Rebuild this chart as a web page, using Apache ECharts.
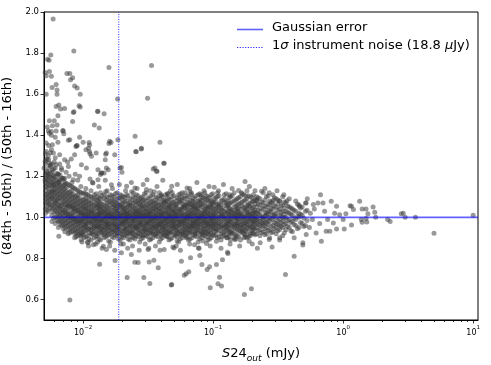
<!DOCTYPE html>
<html>
<head>
<meta charset="utf-8">
<script src="https://cdn.jsdelivr.net/npm/echarts@6/dist/echarts.min.js"></script>
<style>
html,body{margin:0;padding:0;background:#fff;}
#chart{width:491px;height:365px;}
</style>
</head>
<body>
<div id="chart"></div>
<script>
// ---------- data ----------
const xMin = 0.005, xMax = 10.9;
const yMin = 0.5, yMax = 2.0;
const gaussianLevel = 1.0;          // Gaussian error expectation
const noiseLevel = 0.0188;          // 1 sigma instrument noise, mJy (18.8 uJy)
const yTickValues = [0.6, 0.8, 1.0, 1.2, 1.4, 1.6, 1.8, 2.0];
const majorXTicks = [0.01, 0.1, 1, 10];
const minorXTicks = [0.006,0.007,0.008,0.009,0.02,0.03,0.04,0.05,0.06,0.07,0.08,0.09,
                     0.2,0.3,0.4,0.5,0.6,0.7,0.8,0.9,2,3,4,5,6,7,8,9];

// dense band, set A: column x positions (mJy) and the y values read in each column
const bandColX = [0.00513,0.00543,0.00575,0.00610,0.00646,0.00684,0.00724,0.00767,0.00813,0.00861,0.00912,0.00966,
0.0102,0.0108,0.0115,0.0122,0.0129,0.0136,0.0145,0.0153,0.0162,0.0172,0.0182,0.0193,0.0204,0.0216,0.0229,0.0243,
0.0257,0.0272,0.0288,0.0305,0.0324,0.0343,0.0363,0.0385,0.0407,0.0432,0.0457,0.0484,0.0513,0.0543,0.0575,0.0610,
0.0646,0.0684,0.0724,0.0767,0.0813,0.0861,0.0912,0.0966,0.102,0.108,0.115,0.122,0.129,0.136,0.145,0.153,0.162,
0.172,0.182,0.193,0.204,0.216,0.229,0.243,0.257,0.272,0.288,0.305,0.324,0.343,0.363,0.385,0.407,0.432,0.457,0.484,0.513];
const bandColY = [
[1.04,1.09,1.13,1.17,1.21,1.26,1.11,1.07,1.19,1.31,1.15,1.02],
[1.03,1.08,1.12,1.16,1.20,1.24,1.10,1.14,1.06,1.28,1.18,1.35],
[1.01,1.06,1.10,1.13,1.17,1.22,1.09,1.15,1.04,1.26,1.19,1.12,0.98],
[1.00,1.05,1.08,1.12,1.16,1.20,1.03,1.10,1.14,1.24,1.07,1.18,0.97],
[0.98,1.02,1.06,1.09,1.13,1.17,1.04,1.11,1.21,1.00,1.15,1.08,0.95],
[0.96,1.00,1.04,1.07,1.11,1.15,1.02,1.09,1.19,0.98,1.13,1.06,1.23],
[0.95,0.99,1.03,1.06,1.10,1.14,1.01,1.08,1.17,0.97,1.12,1.05,0.93],
[0.94,0.98,1.01,1.05,1.08,1.12,1.00,1.06,1.16,0.96,1.10,1.03,0.92],
[0.93,0.97,1.00,1.04,1.07,1.11,0.99,1.05,1.15,0.95,1.09,1.02,1.13],
[0.92,0.96,0.99,1.03,1.06,1.10,0.98,1.04,1.14,0.94,1.08,1.01,0.90],
[0.91,0.95,0.98,1.02,1.05,1.09,0.97,1.03,1.13,0.93,1.07,1.00,1.11],
[0.91,0.94,0.98,1.01,1.04,1.08,0.96,1.02,1.12,0.92,1.06,0.99,0.89],
[0.90,0.93,0.96,0.98,1.00,1.02,1.04,1.07,1.09,1.12,0.95,1.01,1.05],
[0.91,0.94,0.95,0.99,1.01,1.03,1.06,1.08,1.11,0.97,1.00,1.04,0.88],
[0.89,0.92,0.95,0.97,1.00,1.02,1.05,1.07,1.10,0.98,1.03,1.13,0.94],
[0.90,0.93,0.96,0.99,1.01,1.04,1.06,1.09,0.97,1.02,1.11,0.95,1.00],
[0.91,0.92,0.95,0.98,1.00,1.03,1.05,1.08,1.10,0.96,1.01,1.06,0.88],
[0.89,0.93,0.96,0.98,1.01,1.02,1.04,1.07,1.12,0.99,0.94,1.05,1.09],
[0.90,0.94,0.95,0.97,0.99,1.02,1.04,1.06,1.09,1.00,1.03,0.92,1.11],
[0.91,0.93,0.96,0.98,1.00,1.01,1.05,1.07,1.10,0.97,1.03,0.95,1.13],
[0.88,0.92,0.95,0.97,1.00,1.02,1.04,1.06,1.08,0.99,1.01,1.11,0.94],
[0.90,0.93,0.96,0.99,1.01,1.03,1.05,1.08,1.10,0.97,1.00,0.94,1.06],
[0.91,0.94,0.95,0.98,1.00,1.02,1.04,1.07,1.12,0.96,1.03,0.92,1.09],
[0.89,0.92,0.96,0.97,0.99,1.01,1.05,1.06,1.09,1.02,1.00,0.94,1.11],
[0.90,0.93,0.95,0.98,1.00,1.03,1.04,1.07,1.10,0.97,1.01,1.05,0.87],
[0.91,0.94,0.96,0.99,1.01,1.02,1.05,1.08,1.11,0.98,1.03,0.92,1.00],
[0.89,0.93,0.95,0.97,1.00,1.02,1.04,1.06,1.09,0.96,1.01,1.07,0.92],
[0.90,0.92,0.96,0.98,1.00,1.01,1.03,1.07,1.10,0.99,1.05,0.94,1.12],
[0.91,0.93,0.95,0.97,0.99,1.02,1.04,1.06,1.08,1.00,1.03,0.95,1.11],
[0.88,0.92,0.96,0.98,1.01,1.03,1.05,1.07,1.09,0.97,1.00,0.94,1.02],
[0.90,0.93,0.95,0.99,1.00,1.02,1.04,1.08,1.10,0.96,1.01,1.06,0.91],
[0.91,0.94,0.96,0.98,1.00,1.01,1.03,1.06,1.12,0.97,1.04,0.93,1.08],
[0.89,0.92,0.95,0.97,0.99,1.02,1.05,1.07,1.09,1.00,1.03,0.94,1.01],
[0.90,0.93,0.96,0.98,1.00,1.03,1.04,1.06,1.11,0.95,1.01,1.08,0.92],
[0.91,0.92,0.95,0.97,1.01,1.02,1.05,1.07,1.10,0.99,1.00,0.94,1.04],
[0.88,0.93,0.96,0.99,1.00,1.01,1.03,1.06,1.09,0.97,1.04,0.95,1.12],
[0.90,0.94,0.95,0.98,1.00,1.02,1.04,1.08,1.10,0.96,1.01,0.92,1.06],
[0.91,0.93,0.96,0.97,0.99,1.03,1.05,1.07,1.11,1.00,1.02,0.94,1.08],
[0.89,0.92,0.95,0.98,1.01,1.02,1.04,1.06,1.09,0.97,1.00,1.05,0.93],
[0.90,0.93,0.96,0.99,1.00,1.01,1.03,1.07,1.10,0.95,1.04,0.98,1.12],
[0.91,0.94,0.95,0.97,1.00,1.02,1.05,1.06,1.08,0.99,1.03,0.92,1.01],
[0.88,0.92,0.96,0.98,0.99,1.03,1.04,1.07,1.11,0.96,1.01,0.94,1.09],
[0.90,0.93,0.95,0.97,1.01,1.02,1.05,1.08,1.10,1.00,0.98,1.04,0.92],
[0.91,0.94,0.96,0.99,1.00,1.01,1.03,1.06,1.09,0.97,1.05,0.93,1.12],
[0.89,0.92,0.95,0.98,1.00,1.02,1.04,1.07,1.10,0.96,1.01,1.06,0.94],
[0.90,0.93,0.96,0.97,0.99,1.03,1.05,1.06,1.08,1.00,1.02,0.95,1.11],
[0.91,0.92,0.95,0.98,1.01,1.02,1.04,1.07,1.09,0.97,1.00,0.93,1.05],
[0.88,0.94,0.96,0.99,1.00,1.01,1.03,1.08,1.11,0.95,1.04,0.97,1.06],
[0.90,0.93,0.95,0.97,1.00,1.02,1.05,1.06,1.10,0.98,1.01,0.92,1.08],
[0.91,0.93,0.96,0.98,0.99,1.03,1.04,1.07,1.09,1.00,1.02,0.94,1.12],
[0.89,0.92,0.95,0.97,1.01,1.02,1.05,1.08,1.10,0.96,1.00,1.04,0.93],
[0.90,0.94,0.96,0.99,1.00,1.01,1.03,1.06,1.11,0.97,1.05,0.92,1.08],
[0.91,0.93,0.95,0.98,1.00,1.02,1.04,1.07,1.09,0.97,1.01],
[0.90,0.94,0.96,0.97,0.99,1.03,1.05,1.06,1.10,1.00,1.12],
[0.89,0.92,0.95,0.98,1.01,1.02,1.04,1.08,0.96,1.00,1.06],
[0.91,0.93,0.96,0.99,1.00,1.01,1.03,1.07,1.09,0.95,1.11],
[0.90,0.94,0.95,0.97,1.00,1.02,1.05,1.06,1.08,0.98,1.03],
[0.92,0.93,0.96,0.98,0.99,1.03,1.04,1.07,1.10,1.01,0.89],
[0.90,0.92,0.95,0.97,1.01,1.02,1.05,1.08,1.12,0.96,1.00],
[0.91,0.94,0.96,0.99,1.00,1.01,1.03,1.06,1.09,0.97,1.04],
[0.89,0.93,0.95,0.98,1.00,1.02,1.04,1.07,1.10,1.01,0.96],
[0.92,0.94,0.96,0.97,0.99,1.03,1.05,1.08,1.11,1.00,0.90],
[0.90,0.93,0.95,0.98,1.01,1.02,1.04,1.06,1.09,0.97,1.13],
[0.91,0.92,0.96,0.99,1.00,1.01,1.03,1.07,1.10,0.95,1.05],
[0.92,0.94,0.95,0.97,1.00,1.02,1.05,1.08,1.11,0.98,1.03],
[0.92,0.95,0.97,1.00,1.02,1.05,1.08,1.10,0.99],
[0.91,0.94,0.98,1.01,1.03,1.06,1.09,0.96],
[0.93,0.96,0.99,1.00,1.04,1.07,1.12,0.97],
[0.92,0.95,0.97,1.01,1.02,1.05,1.10,0.99],
[0.90,0.94,0.98,1.00,1.03,1.06,1.08],
[0.93,0.96,0.99,1.01,1.04,1.07,1.11],
[0.92,0.95,0.97,1.00,1.02,1.05,1.09],
[0.94,0.96,0.99,1.01,1.04,1.08],
[0.91,0.95,0.98,1.00,1.03,1.06,1.10],
[0.94,0.97,1.00,1.03,1.07],
[0.95,0.99,1.02,1.05,1.09],
[0.93,0.98,1.01,1.04],
[0.96,0.99,1.03,1.08],
[0.95,1.00,1.02,1.06],
[0.97,1.01,1.05],
[0.96,1.03,1.07]
];

// dense band, set B: columns between those of set A
const bandColX2 = [0.00528,0.00559,0.00592,0.00628,0.00665,0.00704,0.00745,0.00789,0.00837,0.00886,0.00939,0.00994,
0.0105,0.0111,0.0118,0.0126,0.0133,0.0140,0.0149,0.0157,0.0167,0.0177,0.0187,0.0199,0.0210,0.0222,0.0236,0.0250,
0.0265,0.0280,0.0296,0.0314,0.0333,0.0353,0.0374,0.0396,0.0419,0.0445,0.0470,0.0498,0.0528,0.0559,0.0592,0.0628,
0.0665,0.0704,0.0745,0.0789,0.0837,0.0886,0.0939,0.0994,0.105,0.111,0.118,0.126,0.133,0.140,0.149,0.157,0.167,
0.177,0.187,0.199,0.210,0.222,0.236,0.250,0.265,0.280,0.296,0.314,0.333,0.353,0.374,0.396,0.419,0.445,0.470,0.498,0.528];
const bandColY2 = [
[1.055,1.095,1.145,1.185,1.225,1.115,1.075,1.165,1.035,1.285,1.205],
[1.045,1.085,1.125,1.175,1.215,1.255,1.105,1.155,1.065,1.195,1.315],
[1.025,1.065,1.105,1.135,1.175,1.235,1.085,1.155,1.045,1.205,1.125,0.995],
[1.005,1.045,1.085,1.125,1.165,1.215,1.065,1.105,1.145,1.185,1.025,0.985],
[0.985,1.025,1.055,1.095,1.135,1.175,1.045,1.115,1.205,1.005,1.155,0.965],
[0.965,1.005,1.035,1.075,1.115,1.155,1.025,1.095,1.185,0.985,1.135,0.945],
[0.955,0.995,1.025,1.065,1.105,1.145,1.015,1.085,1.165,0.975,1.125,1.045],
[0.945,0.985,1.015,1.055,1.085,1.125,1.005,1.065,1.155,0.965,1.105,0.925],
[0.935,0.975,1.005,1.045,1.075,1.115,0.995,1.055,1.145,0.955,1.095,1.025],
[0.925,0.965,0.995,1.035,1.065,1.105,0.985,1.045,1.135,0.945,1.085,0.905],
[0.915,0.955,0.985,1.025,1.055,1.095,0.975,1.035,1.125,0.935,1.075,1.005],
[0.915,0.945,0.985,1.015,1.045,1.085,0.965,1.025,1.115,0.925,1.065,0.995],
[0.905,0.935,0.955,0.975,0.995,1.015,1.035,1.055,1.075,1.095,0.965,1.115],
[0.895,0.925,0.945,0.985,1.005,1.025,1.045,1.065,1.085,1.105,0.975,1.015],
[0.915,0.945,0.965,0.985,1.005,1.035,1.055,1.075,1.095,0.925,0.995,1.025],
[0.905,0.925,0.955,0.975,0.995,1.015,1.045,1.065,1.085,1.115,0.985,0.945],
[0.895,0.935,0.965,0.985,1.005,1.025,1.035,1.055,1.075,1.095,0.955,1.015],
[0.915,0.945,0.955,0.975,0.995,1.015,1.045,1.065,1.105,0.925,0.985,1.025],
[0.905,0.925,0.945,0.965,0.995,1.005,1.035,1.055,1.085,1.125,0.975,1.015],
[0.885,0.935,0.955,0.985,1.005,1.025,1.045,1.075,1.095,0.965,0.915,1.015],
[0.905,0.945,0.965,0.975,0.995,1.015,1.035,1.065,1.085,1.105,0.925,1.005],
[0.915,0.935,0.955,0.985,1.005,1.025,1.055,1.075,1.115,0.965,0.995,1.045],
[0.895,0.925,0.945,0.975,0.995,1.015,1.035,1.055,1.095,0.955,1.005,1.065],
[0.905,0.935,0.965,0.985,1.005,1.025,1.045,1.065,1.085,0.915,0.975,1.105],
[0.915,0.945,0.955,0.975,0.995,1.015,1.045,1.075,1.095,0.935,0.985,1.025],
[0.895,0.925,0.965,0.985,1.005,1.035,1.055,1.065,1.105,0.945,0.995,1.015],
[0.905,0.935,0.955,0.975,0.995,1.015,1.035,1.055,1.085,0.925,0.985,1.125],
[0.915,0.945,0.965,0.985,1.005,1.025,1.045,1.075,1.095,0.955,1.015,0.895],
[0.905,0.925,0.955,0.975,0.995,1.015,1.035,1.065,1.085,1.105,0.945,1.005],
[0.895,0.935,0.965,0.985,1.005,1.025,1.055,1.075,1.095,0.915,0.975,1.045],
[0.915,0.945,0.955,0.975,0.995,1.015,1.035,1.055,1.085,0.935,1.005,1.115],
[0.905,0.925,0.965,0.985,1.005,1.025,1.045,1.065,1.095,0.945,0.975,1.015],
[0.895,0.935,0.955,0.975,0.995,1.015,1.035,1.075,1.105,0.925,0.985,1.055],
[0.915,0.945,0.965,0.985,1.005,1.025,1.045,1.065,1.085,0.955,0.995,1.125],
[0.905,0.925,0.955,0.975,0.995,1.035,1.055,1.075,1.095,0.935,1.015,0.965],
[0.895,0.935,0.965,0.985,1.005,1.025,1.045,1.065,1.105,0.915,0.975,1.015],
[0.915,0.945,0.955,0.975,0.995,1.015,1.035,1.055,1.085,0.925,0.985,1.075],
[0.905,0.925,0.965,0.985,1.005,1.025,1.045,1.075,1.095,0.945,0.995,1.115],
[0.895,0.935,0.955,0.975,0.995,1.015,1.055,1.065,1.085,0.925,1.005,1.035],
[0.915,0.945,0.965,0.985,1.005,1.025,1.035,1.055,1.105,0.955,0.975,1.075],
[0.905,0.925,0.955,0.975,0.995,1.015,1.045,1.065,1.095,0.935,1.005,0.885],
[0.895,0.935,0.965,0.985,1.005,1.025,1.035,1.075,1.085,0.915,0.975,1.115],
[0.915,0.945,0.955,0.975,0.995,1.015,1.045,1.055,1.095,0.925,0.985,1.065],
[0.905,0.925,0.965,0.985,1.005,1.035,1.055,1.075,1.105,0.945,0.995,1.015],
[0.895,0.935,0.955,0.975,0.995,1.015,1.035,1.065,1.085,0.925,1.005,1.125],
[0.915,0.945,0.965,0.985,1.005,1.025,1.045,1.055,1.095,0.955,0.975,1.075],
[0.905,0.925,0.955,0.975,0.995,1.015,1.035,1.065,1.105,0.935,0.985,1.045],
[0.895,0.935,0.965,0.985,1.005,1.025,1.055,1.075,1.085,0.915,0.995,1.115],
[0.915,0.945,0.955,0.975,0.995,1.015,1.035,1.065,1.095,0.925,1.005,0.885],
[0.905,0.925,0.965,0.985,1.005,1.025,1.045,1.055,1.085,0.945,0.975,1.105],
[0.895,0.935,0.955,0.975,0.995,1.035,1.055,1.075,1.095,0.915,0.985,1.015],
[0.915,0.945,0.965,0.985,1.005,1.025,1.045,1.065,1.115,0.955,0.995,1.075],
[0.915,0.945,0.965,0.985,1.005,1.025,1.045,1.075,1.095,0.935],
[0.905,0.935,0.955,0.975,0.995,1.015,1.055,1.065,1.105,1.035],
[0.925,0.945,0.965,0.985,1.005,1.035,1.045,1.085,0.905,1.015],
[0.915,0.935,0.955,0.975,0.995,1.025,1.055,1.075,1.115,0.965],
[0.905,0.945,0.965,0.985,1.005,1.015,1.045,1.065,1.095,0.925],
[0.925,0.935,0.955,0.975,0.995,1.025,1.035,1.075,1.105,1.005],
[0.915,0.945,0.965,0.985,1.015,1.035,1.055,1.085,0.895,0.995],
[0.905,0.935,0.955,0.975,0.995,1.025,1.045,1.065,1.095,1.015],
[0.925,0.945,0.965,0.985,1.005,1.015,1.055,1.075,1.115,0.935],
[0.915,0.935,0.955,0.975,1.005,1.035,1.045,1.085,0.905,0.995],
[0.905,0.945,0.965,0.985,0.995,1.025,1.055,1.065,1.105,1.015],
[0.925,0.935,0.955,0.975,1.005,1.015,1.045,1.075,1.095,0.985],
[0.915,0.945,0.965,0.985,0.995,1.025,1.035,1.065,1.085,1.005],
[0.935,0.965,0.985,1.015,1.035,1.065,1.095],
[0.925,0.955,0.995,1.005,1.045,1.075,0.975],
[0.945,0.975,1.005,1.025,1.055,1.085,0.915],
[0.935,0.965,0.985,1.015,1.035,1.065,1.105],
[0.925,0.955,0.995,1.025,1.045,1.075],
[0.945,0.975,1.005,1.015,1.055,1.095],
[0.935,0.965,0.985,1.035,1.065,1.085],
[0.955,0.975,1.005,1.025,1.055],
[0.925,0.965,0.995,1.015,1.045,1.075],
[0.955,0.985,1.025,1.055],
[0.935,0.975,1.015,1.045],
[0.965,0.995,1.035],
[0.945,1.005,1.065],
[0.975,1.015,1.045],
[0.955,0.995],
[0.985,1.035]
];

// sparse points above the band (low flux side)
const upperPts = [
[0.00588,1.966],[0.00848,1.81],[0.00532,1.77],[0.00547,1.765],[0.00564,1.79],[0.0055,1.71],[0.0051,1.705],[0.0052,1.69],
[0.0057,1.687],[0.0075,1.70],[0.0079,1.70],[0.0080,1.67],[0.0083,1.68],[0.0086,1.64],[0.009,1.63],[0.0095,1.60],
[0.00577,1.632],[0.0062,1.647],[0.0063,1.62],[0.0063,1.60],[0.0052,1.60],[0.0158,1.73],[0.0336,1.74],[0.0313,1.58],
[0.0184,1.576],[0.0093,1.543],[0.0095,1.537],[0.0062,1.54],[0.0065,1.547],[0.0067,1.527],[0.0072,1.53],[0.0085,1.514],
[0.0129,1.517],[0.0145,1.504],[0.0064,1.495],[0.0055,1.47],[0.0060,1.47],[0.0053,1.44],[0.0058,1.446],[0.0063,1.45],
[0.0062,1.42],[0.0054,1.42],[0.0055,1.41],[0.0057,1.40],[0.0061,1.39],[0.0070,1.42],[0.0071,1.407],[0.0077,1.376],
[0.0094,1.39],[0.0090,1.35],[0.0088,1.345],[0.0122,1.45],[0.0133,1.435],[0.0111,1.365],[0.0112,1.352],[0.0110,1.337],
[0.0112,1.32],[0.0113,1.31],[0.0126,1.313],[0.0149,1.307],[0.0148,1.28],[0.0151,1.24],[0.0164,1.365],[0.0158,1.36],
[0.0185,1.378],[0.0251,1.395],[0.0256,1.32],[0.0281,1.336],[0.039,1.366],[0.042,1.263],[0.0346,1.235],[0.0367,1.224],
[0.0197,1.243],[0.0199,1.22],[0.0136,1.208],[0.0139,1.216],[0.0145,1.216],[0.0084,1.511],[0.013,1.516],[0.0083,1.467],
[0.0057,1.418],[0.0070,1.423],[0.0052,1.362],[0.0058,1.354],[0.0064,1.366],[0.0079,1.378],[0.0089,1.349],[0.0100,1.366],
[0.0105,1.329],[0.016,1.37],[0.0254,1.321],[0.028,1.333],[0.0052,1.321],[0.0059,1.313],[0.0066,1.305],[0.0072,1.281],
[0.0081,1.284],[0.0086,1.305],[0.0116,1.297],[0.0151,1.313],[0.0175,1.305],[0.0051,1.272],[0.0055,1.264],[0.0062,1.256],
[0.0077,1.248],[0.0097,1.256],[0.0106,1.24],[0.013,1.232],[0.0138,1.216],[0.0156,1.232],[0.0192,1.24],[0.0356,1.24],
[0.037,1.224],[0.031,1.183],[0.025,1.143],[0.0417,1.264],[0.0054,1.208],[0.0059,1.197],[0.0066,1.183],[0.0072,1.19],
[0.0084,1.183],[0.0094,1.2],[0.0113,1.187],[0.0119,1.167],[0.013,1.183],[0.0165,1.159],[0.0216,1.151],[0.0307,1.135],
[0.0051,1.18],[0.0053,1.22],[0.0056,1.25],[0.0052,1.28],[0.0058,1.23],[0.0060,1.27],[0.0064,1.21],[0.0068,1.24],
[0.0070,1.19],[0.0074,1.22],[0.0078,1.20],[0.0082,1.17],[0.0087,1.21],[0.0091,1.18],[0.0096,1.15],[0.0054,1.30],
[0.0057,1.33],[0.0061,1.29],[0.0066,1.26],[0.0076,1.27],[0.0050,1.24],[0.0059,1.16],[0.0065,1.17],[0.0072,1.16]
];

// points on the upper / lower fringes of the band
const fringePts = [
[0.048,1.151],[0.063,1.143],[0.102,1.147],[0.176,1.175],[0.157,1.131],[0.236,1.127],[0.040,1.11],[0.045,1.115],
[0.068,1.119],[0.081,1.11],[0.134,1.11],[0.178,1.105],[0.216,1.086],[0.29,1.083],[0.325,1.078],[0.37,1.081],
[0.46,1.054],[0.52,1.07],[0.044,0.908],[0.049,0.856],[0.062,0.90],[0.072,0.867],[0.089,0.872],[0.106,0.883],
[0.127,0.90],[0.147,0.892],[0.189,0.883],[0.23,0.876],[0.27,0.892],[0.325,0.90],[0.42,0.90],[0.49,0.876],[0.52,0.916],
[0.0105,1.14],[0.0118,1.17],[0.0132,1.15],[0.0148,1.18],[0.0168,1.14],[0.019,1.16],[0.0212,1.13],[0.0235,1.17],
[0.026,1.14],[0.029,1.16],[0.033,1.13],[0.037,1.15],[0.041,1.18],[0.047,1.13],[0.053,1.16],[0.058,1.12],[0.066,1.14],
[0.075,1.17],[0.085,1.13],[0.093,1.15],[0.11,1.13],[0.12,1.16],[0.14,1.14],[0.165,1.12],[0.19,1.15],[0.21,1.13],
[0.25,1.14],[0.27,1.12],[0.31,1.13],[0.35,1.11],
[0.0098,0.88],[0.011,0.86],[0.0125,0.87],[0.014,0.85],[0.016,0.86],[0.0175,0.84],[0.0195,0.87],[0.022,0.85],
[0.024,0.86],[0.027,0.84],[0.030,0.87],[0.032,0.85],[0.036,0.86],[0.039,0.84],[0.052,0.86],[0.056,0.84],[0.066,0.87],
[0.078,0.85],[0.095,0.86],[0.115,0.85],[0.135,0.87],[0.16,0.86],[0.20,0.87]
];

// sparse points below the band
const lowerPts = [
[0.0079,0.597],[0.0134,0.772],[0.0065,0.908],[0.0109,0.876],[0.0176,0.79],[0.0218,0.707],[0.0293,0.707],[0.0326,0.678],
[0.0477,0.671],[0.025,0.781],[0.0265,0.78],[0.0322,0.783],[0.035,0.791],[0.057,0.786],[0.060,0.718],[0.062,0.725],
[0.065,0.735],[0.090,0.746],[0.094,0.759],[0.106,0.77],[0.112,0.708],[0.095,0.657],[0.109,0.676],[0.116,0.665],
[0.118,0.794],[0.129,0.83],[0.079,0.814],[0.174,0.624],[0.197,0.652],[0.36,0.721],[0.42,0.81],[0.68,0.883],
[0.048,0.673],[0.077,0.851],[0.082,0.77],[0.13,0.824],[0.219,0.85],[0.284,0.855],[0.325,0.89],[0.067,0.803],
[0.042,0.843],[0.050,0.851],[0.0197,0.827],[0.0235,0.819],[0.0378,0.754],[0.0151,0.843],[0.0143,0.859],[0.0316,0.843],
[0.012,0.867],[0.49,0.865]
];

// sparse points at high flux
const brightPts = [
[10.0,1.01],[2.9,1.02],[3.0,1.0],[3.6,1.0],[2.2,0.99],[1.7,1.05],[1.75,1.025],[1.4,1.04],[1.4,0.976],[1.34,1.078],
[1.16,1.054],[1.2,1.038],[1.05,1.017],[1.02,0.943],[0.89,1.054],[0.89,0.943],[0.79,0.932],[1.5,0.994],[1.78,1.0],
[2.3,0.98],[5.0,0.923],[1.13,1.057],[1.5,1.04],[1.55,1.017],[1.38,0.99],[1.52,0.977],[2.8,1.017],[1.16,0.963],
[0.74,0.932],[0.62,0.924],[0.81,1.078],[0.64,1.07],[0.70,1.07],[0.59,1.062],[0.94,1.013],[1.0,0.99],[0.84,0.972],
[0.56,1.02],[0.60,1.04],[0.66,0.97],[0.72,1.03],[0.76,0.99],[0.55,0.95],[0.53,1.09],[0.67,1.11],[0.86,1.02],[0.58,0.99]
];

// ---------- build chart ----------
const FONT = 'DejaVu Sans';
const scatterData = [];
bandColX.forEach((x, i) => bandColY[i].forEach(y => scatterData.push([x, y])));
bandColX2.forEach((x, i) => bandColY2[i].forEach(y => scatterData.push([x, y])));
[upperPts, fringePts, lowerPts, brightPts].forEach(arr => arr.forEach(p => scatterData.push(p)));

function tickSeries(values, len) {
  return {
    type: 'custom', silent: true, clip: false, z: 5,
    data: values.map(v => [v, yMin]),
    renderItem: function (params, api) {
      const p = api.coord([api.value(0), api.value(1)]);
      const x = Math.round(p[0]) + 0.5;
      return { type: 'line', shape: { x1: x, y1: p[1], x2: x, y2: p[1] + len },
               style: { stroke: '#000', lineWidth: 0.8 } };
    }
  };
}

const chart = echarts.init(document.getElementById('chart'), null, { renderer: 'canvas' });
chart.setOption({
  animation: false,
  backgroundColor: '#fff',
  textStyle: { fontFamily: FONT },
  grid: { left: 44, right: 13, top: 12, bottom: 45, containLabel: false, outerBoundsMode: 'none',
          show: true, borderColor: '#000', borderWidth: 1, backgroundColor: 'transparent' },
  xAxis: {
    type: 'log', logBase: 10, min: xMin, max: xMax,
    axisLine: { show: true, lineStyle: { color: '#000', width: 1 } },
    axisTick: { show: false },
    splitLine: { show: false },
    axisLabel: {
      margin: 5, color: '#000', fontFamily: FONT, fontSize: 8,
      formatter: function (v) {
        const e = Math.log10(v);
        if (Math.abs(e - Math.round(e)) > 1e-6) return '';
        const k = Math.round(e);
        return '{b|10}{s|' + (k < 0 ? '\u2212' + (-k) : k) + '}';
      },
      rich: {
        b: { fontSize: 8, fontFamily: FONT, color: '#000', lineHeight: 12, verticalAlign: 'bottom' },
        s: { fontSize: 5.5, fontFamily: FONT, color: '#000', lineHeight: 12, verticalAlign: 'top' }
      }
    },
    name: '{i|S}{n|24}{s|out}{n| (mJy)}',
    nameLocation: 'middle', nameGap: 25,
    nameTextStyle: {
      rich: {
        i: { fontSize: 13, fontFamily: FONT, fontStyle: 'italic', color: '#000', lineHeight: 18, verticalAlign: 'middle' },
        n: { fontSize: 13, fontFamily: FONT, color: '#000', lineHeight: 18, verticalAlign: 'middle' },
        s: { fontSize: 9, fontFamily: FONT, fontStyle: 'italic', color: '#000', lineHeight: 18, verticalAlign: 'bottom' }
      }
    }
  },
  yAxis: {
    type: 'value', min: yMin, max: yMax,
    axisLine: { show: true, lineStyle: { color: '#000', width: 1 } },
    axisTick: { show: true, length: 3.5, customValues: yTickValues, lineStyle: { color: '#000', width: 0.8 } },
    splitLine: { show: false },
    axisLabel: { customValues: yTickValues, margin: 5, color: '#000', fontFamily: FONT, fontSize: 8.5,
                 formatter: v => Number(v).toFixed(1) },
    name: '(84th - 50th) / (50th - 16th)',
    nameLocation: 'middle', nameGap: 29,
    nameTextStyle: { fontSize: 13, fontFamily: FONT, color: '#000' }
  },
  series: [
    {
      type: 'scatter', symbol: 'circle', symbolSize: 5, z: 2,
      itemStyle: { color: '#3c3c3c', opacity: 0.52, borderWidth: 0 },
      data: scatterData, silent: true, large: false, largeThreshold: 100000
    },
    {
      type: 'line', z: 4, symbol: 'none', silent: true,
      data: [[xMin, gaussianLevel], [xMax, gaussianLevel]],
      lineStyle: { color: 'rgba(0,0,255,0.62)', width: 1.6 }
    },
    {
      type: 'line', z: 4, symbol: 'none', silent: true,
      data: [[noiseLevel, yMin], [noiseLevel, yMax]],
      lineStyle: { color: 'rgba(20,20,255,0.9)', width: 1, type: [1, 1.5] }
    },
    tickSeries(majorXTicks, 3.5),
    tickSeries(minorXTicks, 2)
  ],
  graphic: [
    { type: 'line', shape: { x1: 237, y1: 29.5, x2: 263, y2: 29.5 }, style: { stroke: 'rgba(0,0,255,0.62)', lineWidth: 1.6 } },
    { type: 'line', shape: { x1: 237, y1: 47.5, x2: 263, y2: 47.5 }, style: { stroke: 'rgba(40,40,255,1)', lineWidth: 1.2, lineDash: [1.2, 1.5] } },
    { type: 'text', left: 272, top: 21, style: { text: 'Gaussian error', font: '13px "DejaVu Sans"', fill: '#000' } },
    { type: 'text', left: 272, top: 39, style: {
        text: '{n|1}{i|\u03c3}{n| instrument noise (18.8 }{i|\u03bc}{n|Jy)}',
        rich: {
          n: { fontSize: 13, fontFamily: FONT, fill: '#000', color: '#000' },
          i: { fontSize: 13, fontFamily: FONT, fontStyle: 'italic', fill: '#000', color: '#000' }
        } } }
  ]
});
</script>
</body>
</html>
